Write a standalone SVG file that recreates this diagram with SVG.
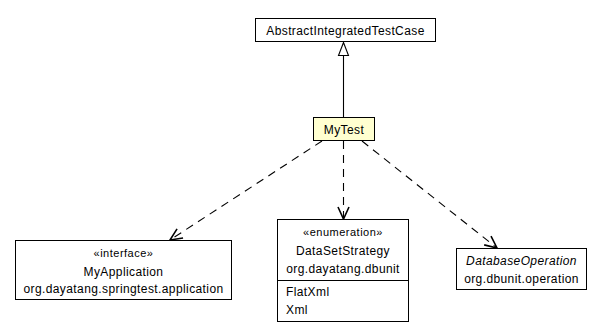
<svg xmlns="http://www.w3.org/2000/svg" width="603" height="332" viewBox="0 0 603 332">
  <style>
    .box { fill: #ffffff; stroke: #000000; stroke-width: 1; }
    .cur { fill: #ffffd0; stroke: #000000; stroke-width: 1; }
    .t { font-family: "Liberation Sans", Arial, sans-serif; font-size: 12px; letter-spacing: 0.4px; fill: #000000; }
    .st { font-size: 11px; letter-spacing: 0.5px; }
    .c { text-anchor: middle; }
    .i { font-style: italic; }
    .dep { fill: none; stroke: #000000; stroke-width: 1.1; stroke-dasharray: 8,6; }
    .gen { fill: none; stroke: #000000; stroke-width: 1.1; }
  </style>
  <defs>
    <marker id="open" markerWidth="16" markerHeight="16" refX="13" refY="7" orient="auto" markerUnits="userSpaceOnUse">
      <path d="M1,1.5 L13,7 L1,12.5" fill="none" stroke="#000000" stroke-width="1.6"/>
    </marker>
    <marker id="tri" markerWidth="16" markerHeight="14" refX="14" refY="6.5" orient="auto" markerUnits="userSpaceOnUse">
      <path d="M1,1.5 L14,6.5 L1,11.5 Z" fill="#ffffff" stroke="#000000" stroke-width="1.1"/>
    </marker>
  </defs>

  <g id="connectors">
    <line class="gen" x1="343.5" y1="117" x2="343.5" y2="42.5" marker-end="url(#tri)"/>
    <line class="dep" x1="322" y1="141" x2="170" y2="240" marker-end="url(#open)"/>
    <line class="dep" x1="343.5" y1="141" x2="343.5" y2="219" marker-end="url(#open)"/>
    <line class="dep" x1="362" y1="141" x2="497" y2="248" marker-end="url(#open)"/>
  </g>

  <g id="AbstractIntegratedTestCase">
    <rect class="box" x="255.5" y="18.5" width="180" height="23"/>
    <text class="t c" x="345.5" y="34.5">AbstractIntegratedTestCase</text>
  </g>

  <g id="MyTest">
    <rect class="cur" x="313.5" y="117.5" width="61" height="23"/>
    <text class="t c" x="344" y="133.5">MyTest</text>
  </g>

  <g id="MyApplication">
    <rect class="box" x="15.5" y="240.5" width="216" height="59"/>
    <text class="t st c" x="123.5" y="257">«interface»</text>
    <text class="t c" x="123.5" y="276">MyApplication</text>
    <text class="t c" x="123.5" y="293">org.dayatang.springtest.application</text>
  </g>

  <g id="DataSetStrategy">
    <rect class="box" x="277.5" y="219.5" width="131" height="102"/>
    <line class="box" x1="277.5" y1="280.5" x2="408.5" y2="280.5"/>
    <text class="t st c" x="343" y="236">«enumeration»</text>
    <text class="t c" x="343" y="255">DataSetStrategy</text>
    <text class="t c" x="343" y="273">org.dayatang.dbunit</text>
    <text class="t" x="286" y="296">FlatXml</text>
    <text class="t" x="286" y="314">Xml</text>
  </g>

  <g id="DatabaseOperation">
    <rect class="box" x="456.5" y="248.5" width="130" height="41"/>
    <text class="t c i" x="521.5" y="265">DatabaseOperation</text>
    <text class="t c" x="521.5" y="283">org.dbunit.operation</text>
  </g>
</svg>
